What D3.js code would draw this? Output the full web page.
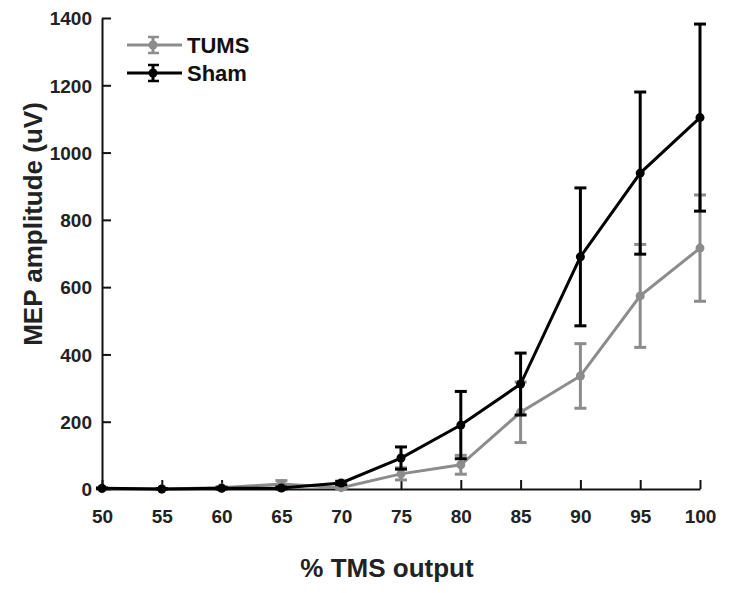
<!DOCTYPE html>
<html>
<head>
<meta charset="utf-8">
<script src="https://cdn.jsdelivr.net/npm/d3@7"></script>
<style>
  body { margin: 0; background: #fff; }
  text { font-family: "Liberation Sans", Arial, sans-serif; font-weight: bold; }
</style>
</head>
<body>
<div id="chart"></div>
<script>
// TMS output levels (x) and MEP amplitudes (uV)
var xLevels = [50, 55, 60, 65, 70, 75, 80, 85, 90, 95, 100];
var yTicks = [0, 200, 400, 600, 800, 1000, 1200, 1400];

var tumsMean = [1, 0, 4, 15, 4, 45, 72, 228, 336, 574, 716];
var tumsErr  = [1, 1, 3, 10, 3, 18, 28, 90, 96, 153, 158];

var shamMean = [2, 0, 2, 3, 18, 92, 190, 312, 690, 939, 1104];
var shamErr  = [1, 1, 2, 3, 5, 33, 100, 92, 205, 241, 278];

var width = 742, height = 593;
var margin = {left: 102, right: 42, top: 18, bottom: 104};

var svg = d3.select("#chart").append("svg")
    .attr("width", width)
    .attr("height", height);

var x = d3.scaleLinear().domain([50, 100]).range([margin.left, width - margin.right]);
var y = d3.scaleLinear().domain([0, 1400]).range([height - margin.bottom, margin.top]);

// axes, ticks pointing inward
var xAxis = svg.append("g")
    .attr("transform", "translate(0," + y(0) + ")")
    .call(d3.axisBottom(x).tickValues(xLevels).tickFormat(d3.format("d"))
        .tickSizeInner(-9).tickSizeOuter(0).tickPadding(21));
var yAxis = svg.append("g")
    .attr("transform", "translate(" + x(50) + ",0)")
    .call(d3.axisLeft(y).tickValues(yTicks).tickFormat(d3.format("d"))
        .tickSizeInner(-9).tickSizeOuter(0).tickPadding(10));

[xAxis, yAxis].forEach(function(ax) {
    ax.select(".domain").attr("stroke", "#111").attr("stroke-width", 2);
    ax.selectAll(".tick line").attr("stroke", "#111").attr("stroke-width", 2);
    ax.selectAll(".tick text").attr("fill", "#222").style("font-size", "19px");
});
yAxis.selectAll(".tick text").attr("dy", "0.36em");

// axis titles
svg.append("text")
    .attr("x", 387)
    .attr("y", 577)
    .attr("text-anchor", "middle")
    .attr("fill", "#222")
    .style("font-size", "26px")
    .text("% TMS output");

svg.append("text")
    .attr("transform", "translate(42,224) rotate(-90)")
    .attr("text-anchor", "middle")
    .attr("fill", "#222")
    .style("font-size", "26px")
    .text("MEP amplitude (uV)");

var series = [
    {name: "TUMS", color: "#8c8c8c", mean: tumsMean, err: tumsErr},
    {name: "Sham", color: "#000", mean: shamMean, err: shamErr}
];

var line = d3.line()
    .x(function(d) { return x(d.x); })
    .y(function(d) { return y(d.y); });

var cap = 6;

series.forEach(function(s) {
    var pts = xLevels.map(function(v, i) {
        return {x: v, y: s.mean[i], lo: Math.max(0, s.mean[i] - s.err[i]), hi: s.mean[i] + s.err[i]};
    });
    var g = svg.append("g");

    var eb = g.selectAll("g.err").data(pts).enter().append("g").attr("class", "err");
    eb.append("line")
        .attr("x1", function(d) { return x(d.x); })
        .attr("x2", function(d) { return x(d.x); })
        .attr("y1", function(d) { return y(d.lo); })
        .attr("y2", function(d) { return y(d.hi); })
        .attr("stroke", s.color).attr("stroke-width", 3);
    eb.append("line")
        .attr("x1", function(d) { return x(d.x) - cap; })
        .attr("x2", function(d) { return x(d.x) + cap; })
        .attr("y1", function(d) { return y(d.hi); })
        .attr("y2", function(d) { return y(d.hi); })
        .attr("stroke", s.color).attr("stroke-width", 3);
    eb.append("line")
        .attr("x1", function(d) { return x(d.x) - cap; })
        .attr("x2", function(d) { return x(d.x) + cap; })
        .attr("y1", function(d) { return y(d.lo); })
        .attr("y2", function(d) { return y(d.lo); })
        .attr("stroke", s.color).attr("stroke-width", 3);

    g.append("path")
        .datum(pts)
        .attr("d", line)
        .attr("fill", "none")
        .attr("stroke", s.color)
        .attr("stroke-width", 3);

    g.selectAll("circle").data(pts).enter().append("circle")
        .attr("cx", function(d) { return x(d.x); })
        .attr("cy", function(d) { return y(d.y); })
        .attr("r", 4.5)
        .attr("fill", s.color);
});

// legend
var legend = svg.append("g");
series.forEach(function(s, i) {
    var ly = 45 + i * 28;
    var lg = legend.append("g");
    lg.append("line").attr("x1", 127).attr("x2", 182).attr("y1", ly).attr("y2", ly)
        .attr("stroke", s.color).attr("stroke-width", 3);
    lg.append("line").attr("x1", 153).attr("x2", 153).attr("y1", ly - 8).attr("y2", ly + 8)
        .attr("stroke", s.color).attr("stroke-width", 3);
    lg.append("line").attr("x1", 148).attr("x2", 159).attr("y1", ly - 8).attr("y2", ly - 8)
        .attr("stroke", s.color).attr("stroke-width", 2.5);
    lg.append("line").attr("x1", 148).attr("x2", 159).attr("y1", ly + 8).attr("y2", ly + 8)
        .attr("stroke", s.color).attr("stroke-width", 2.5);
    lg.append("circle").attr("cx", 153).attr("cy", ly).attr("r", 4.5).attr("fill", s.color);
    lg.append("text").attr("x", 187).attr("y", ly + 8)
        .attr("fill", "#111").style("font-size", "22px").text(s.name);
});
</script>
</body>
</html>
